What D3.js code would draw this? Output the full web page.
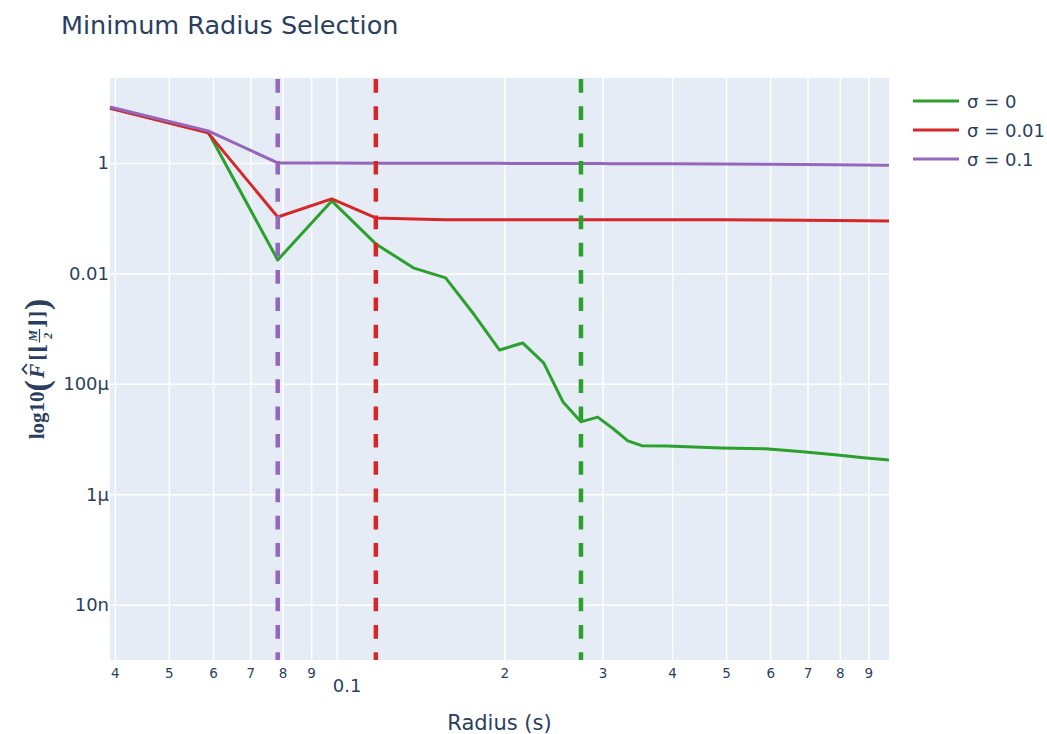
<!DOCTYPE html>
<html>
<head>
<meta charset="utf-8">
<script src="https://cdn.jsdelivr.net/npm/d3@7"></script>
<style>
  body { margin: 0; background: #fff; }
  text { font-family: "DejaVu Sans", Verdana, sans-serif; fill: #2a3f5f; }
</style>
</head>
<body>
<div id="chart"></div>
<script>
// radius samples (s)
const radius = [0.0392, 0.0588, 0.0784, 0.0980, 0.1176, 0.1373, 0.1569, 0.1765, 0.1961, 0.2157,
    0.2353, 0.2549, 0.2745, 0.2941, 0.3137, 0.3333, 0.3529, 0.3922, 0.4902, 0.5882,
    0.6863, 0.7843, 0.8824, 0.9804];

// one value list per noise level
const sigma0 = [10, 3.64, 0.0175, 0.205, 0.0342, 0.0126, 0.0083, 0.0018, 4.1e-4, 5.5e-4,
    2.4e-4, 4.7e-5, 2.05e-5, 2.5e-5, 1.54e-5, 9.3e-6, 7.6e-6, 7.5e-6, 6.9e-6, 6.7e-6,
    5.9e-6, 5.2e-6, 4.6e-6, 4.2e-6];
const sigma001 = [9.8, 3.5, 0.105, 0.223, 0.101, 0.097, 0.094, 0.094, 0.094, 0.094,
    0.094, 0.094, 0.094, 0.094, 0.094, 0.094, 0.094, 0.094, 0.094, 0.093,
    0.092, 0.091, 0.090, 0.089];
const sigma01 = [10.3, 3.8, 1.0, 0.995, 0.99, 0.988, 0.986, 0.984, 0.982, 0.98,
    0.978, 0.976, 0.974, 0.972, 0.97, 0.968, 0.966, 0.962, 0.955, 0.945,
    0.935, 0.925, 0.915, 0.905];

// selected minimum radius for each series (dashed lines)
const minRadius = [0.2745, 0.1176, 0.0784];

const seriesNames = ["σ = 0", "σ = 0.01", "σ = 0.1"];
const seriesColors = ["#2ca02c", "#d62728", "#9467bd"];

const xTicks = [0.04, 0.05, 0.06, 0.07, 0.08, 0.09, 0.1, 0.2, 0.3, 0.4, 0.5, 0.6, 0.7, 0.8, 0.9];
const xTickLabels = ["4", "5", "6", "7", "8", "9", "0.1", "2", "3", "4", "5", "6", "7", "8", "9"];
const yTicks = [1, 0.01, 1e-4, 1e-6, 1e-8];
const yTickLabels = ["1", "0.01", "100µ", "1µ", "10n"];

const W = 1047, H = 734;
const margin = { top: 78, right: 158, bottom: 74, left: 110 },
    width = W - margin.left - margin.right,
    height = H - margin.top - margin.bottom;

const svg = d3.select("#chart").append("svg")
    .attr("width", W)
    .attr("height", H);

const g = svg.append("g")
    .attr("transform", `translate(${margin.left},${margin.top})`);

const xScale = d3.scaleLog()
    .domain([radius[0], radius[radius.length - 1]])
    .range([0, width]);

const yScale = d3.scaleLog()
    .domain([1e-9, 34.5])
    .range([height, 0]);

// plot background
g.append("rect")
    .attr("width", width)
    .attr("height", height)
    .attr("fill", "#e5ecf6");

// grid lines
g.append("g")
    .attr("transform", `translate(0,${height})`)
    .call(d3.axisBottom(xScale).tickValues(xTicks).tickSize(-height).tickFormat(""))
    .call(a => a.select(".domain").remove())
    .selectAll("line").attr("stroke", "#fff").attr("stroke-width", 1.5);

g.append("g")
    .call(d3.axisLeft(yScale).tickValues(yTicks).tickSize(-width).tickFormat(""))
    .call(a => a.select(".domain").remove())
    .selectAll("line").attr("stroke", "#fff").attr("stroke-width", 1.5);

// tick labels
const xAxis = g.append("g")
    .attr("transform", `translate(0,${height})`)
    .call(d3.axisBottom(xScale).tickValues(xTicks).tickSize(0)
        .tickFormat((d, i) => xTickLabels[i]));
xAxis.select(".domain").remove();
xAxis.selectAll("text")
    .attr("fill", "#2a3f5f")
    .style("font-family", "'DejaVu Sans', Verdana, sans-serif")
    .style("font-size", "13.5px")
    .attr("y", 8)
    .attr("dy", "0.71em");
xAxis.selectAll("text")
    .filter(d => d === 0.1)
    .style("font-size", "18px")
    .attr("x", 10)
    .attr("y", 19);

const yAxis = g.append("g")
    .call(d3.axisLeft(yScale).tickValues(yTicks).tickSize(0)
        .tickFormat((d, i) => yTickLabels[i]));
yAxis.select(".domain").remove();
yAxis.selectAll("text")
    .attr("fill", "#2a3f5f")
    .style("font-family", "'DejaVu Sans', Verdana, sans-serif")
    .style("font-size", "18px")
    .attr("x", -1);

// series lines
const line = d3.line()
    .x((d, i) => xScale(radius[i]))
    .y(d => yScale(d));

const plot = g.append("g");
[sigma0, sigma001, sigma01].forEach((vals, i) => {
    plot.append("path")
        .datum(vals)
        .attr("d", line)
        .attr("fill", "none")
        .attr("stroke", seriesColors[i])
        .attr("stroke-width", 3)
        .attr("stroke-linejoin", "round");
});

// dashed selection markers
minRadius.forEach((r, i) => {
    g.append("line")
        .attr("x1", xScale(r))
        .attr("x2", xScale(r))
        .attr("y1", 0)
        .attr("y2", height)
        .attr("stroke", seriesColors[i])
        .attr("stroke-width", 4.5)
        .attr("stroke-dasharray", "13.65,13.65")
        .attr("stroke-dashoffset", -1);
});

// title
svg.append("text")
    .attr("x", 61)
    .attr("y", 34)
    .style("font-size", "25.5px")
    .text("Minimum Radius Selection");

// x axis title
svg.append("text")
    .attr("x", margin.left + width / 2)
    .attr("y", 730)
    .attr("text-anchor", "middle")
    .style("font-size", "21px")
    .text("Radius (s)");

// y axis title, built piece by piece (math style)
const yt = svg.append("g")
    .attr("transform", `translate(44,${margin.top + height / 2}) rotate(-90)`);
const ytInner = yt.append("g");
let cx = 0;
function piece(str, size, opts = {}) {
    const t = ytInner.append("text")
        .attr("x", cx)
        .attr("y", opts.y || 0)
        .style("font-family", opts.family || "'Liberation Serif', 'DejaVu Serif', serif")
        .style("font-weight", "bold")
        .style("font-style", opts.italic ? "italic" : "normal")
        .style("font-size", size + "px")
        .text(str);
    cx += t.node().getComputedTextLength() + (opts.gap || 0);
    return t;
}
piece("log10", 21);
piece("(", 34, { y: 4, gap: 2 });
// calligraphic F with a hat
const fStart = cx;
piece("F", 22, { italic: true, gap: 3 });
ytInner.append("path")
    .attr("d", `M${fStart + 4},-17 L${fStart + 9},-21.5 L${fStart + 14},-17`)
    .attr("fill", "none")
    .attr("stroke", "#2a3f5f")
    .attr("stroke-width", 1.8);
piece("[", 21);
piece("\u230A", 21, { gap: 1 });
// fraction M / 2
const fx = cx;
const num = ytInner.append("text")
    .attr("y", -7)
    .style("font-family", "'Liberation Serif', serif")
    .style("font-weight", "bold").style("font-style", "italic")
    .style("font-size", "13px")
    .text("M");
const den = ytInner.append("text")
    .attr("y", 8)
    .style("font-family", "'Liberation Serif', serif")
    .style("font-weight", "bold").style("font-style", "italic")
    .style("font-size", "12px")
    .text("2");
const fw = Math.max(num.node().getComputedTextLength(), den.node().getComputedTextLength()) + 2;
num.attr("x", fx + (fw - num.node().getComputedTextLength()) / 2);
den.attr("x", fx + (fw - den.node().getComputedTextLength()) / 2);
ytInner.append("line")
    .attr("x1", fx).attr("x2", fx + fw)
    .attr("y1", -4.5).attr("y2", -4.5)
    .attr("stroke", "#2a3f5f").attr("stroke-width", 1.2);
cx += fw + 1;
piece("\u230B", 21);
piece("]", 21, { gap: 1 });
piece(")", 34, { y: 4 });
ytInner.attr("transform", `translate(${-cx / 2},0)`);

// legend
const legend = svg.append("g")
    .attr("transform", "translate(913,101)");
seriesNames.forEach((name, i) => {
    const row = legend.append("g").attr("transform", `translate(0,${i * 29})`);
    row.append("line")
        .attr("x1", 0).attr("x2", 46)
        .attr("stroke", seriesColors[i])
        .attr("stroke-width", 3);
    row.append("text")
        .attr("x", 54)
        .attr("y", 6.5)
        .style("font-size", "18px")
        .text(name);
});
</script>
</body>
</html>
